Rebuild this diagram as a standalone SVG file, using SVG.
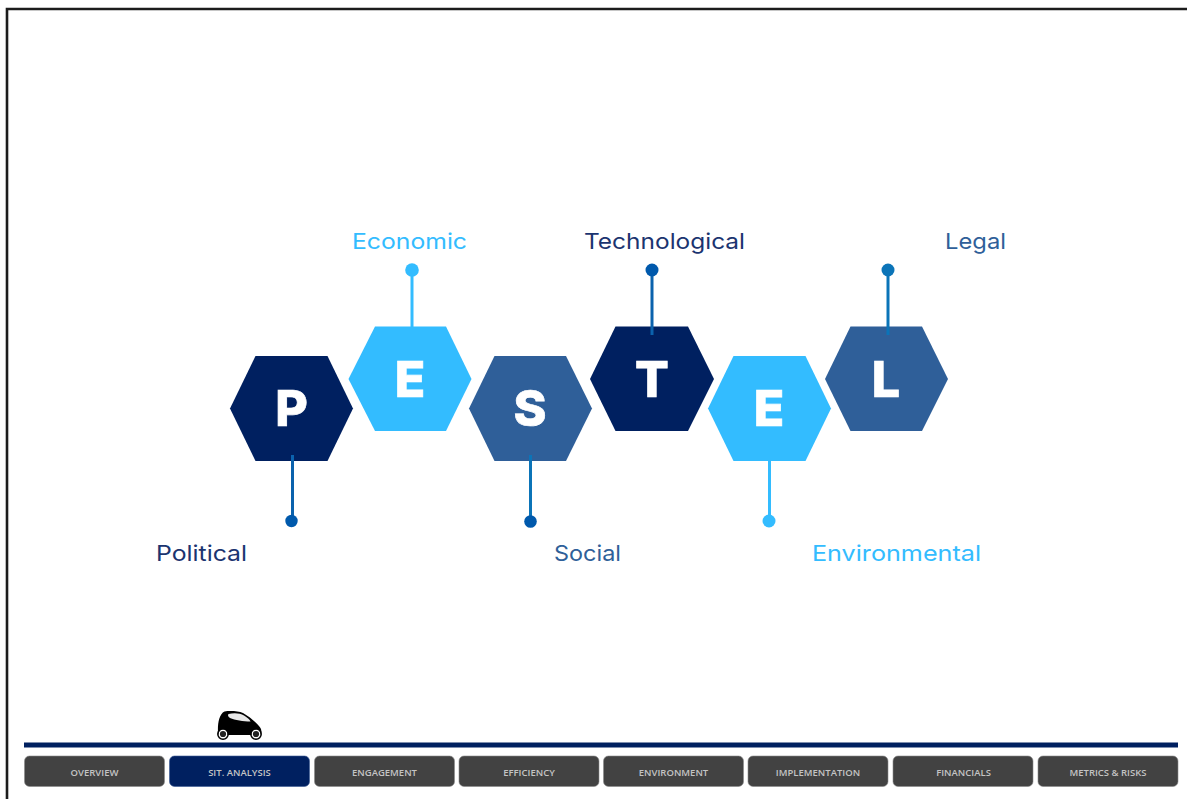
<svg xmlns="http://www.w3.org/2000/svg" width="1187" height="799" viewBox="0 0 1187 799">
<style>
.lbl{font-family:Inter,"Open Sans","Liberation Sans",sans-serif;font-size:22px;font-weight:400}
.ltr{font-family:Inter,"Liberation Sans",sans-serif;font-size:50px;font-weight:800;fill:#fff;text-anchor:middle;stroke:#fff;stroke-width:.7}
.tab{font-family:"Open Sans","Liberation Sans",sans-serif;font-size:9.5px;font-weight:600;fill:#c4c4c4;text-anchor:middle}
.btn{fill:#424242;stroke:#8a8a8a;stroke-width:.6}
.navy{fill:#002060}.sky{fill:#33bcff}.mid{fill:#2f5f99}
.c{stroke-width:3;fill:none}
</style>
<rect width="1187" height="799" fill="#fff"/>
<path id="frame" d="M7 799V9H1187" fill="none" stroke="#1c1c1c" stroke-width="2.600"/>
<g id="node-political"><polygon class="navy" points="230,408.500 255.500,356 327.500,356 353,408.500 327.500,461 255.500,461"/><text class="ltr" x="291.500" y="426">P</text><text class="lbl" x="156" y="561" fill="#1b3470" textLength="91" lengthAdjust="spacingAndGlyphs">Political</text></g>
<g id="node-economic"><polygon class="sky" points="348.500,379 375,326.500 446,326.500 471.500,379 446,431 375,431"/><text class="ltr" x="410" y="397">E</text><text class="lbl" x="352" y="249" fill="#33bcff" textLength="115" lengthAdjust="spacingAndGlyphs">Economic</text></g>
<g id="node-social"><polygon class="mid" points="469,408.500 494.500,356 566,356 592,408.500 566,461 494.500,461"/><text class="ltr" x="530" y="426">S</text><text class="lbl" x="554" y="561" fill="#2f5f99" textLength="67" lengthAdjust="spacingAndGlyphs">Social</text></g>
<g id="node-technological"><polygon class="navy" points="590,379 615.500,326.500 688,326.500 714,379 688,431 615.500,431"/><text class="ltr" x="652" y="397">T</text><text class="lbl" x="584" y="249" fill="#1b3470" textLength="161" lengthAdjust="spacingAndGlyphs">Technological</text></g>
<g id="node-environmental"><polygon class="sky" points="708,408.500 733.500,356 805.500,356 831,408.500 805.500,461 733.500,461"/><text class="ltr" x="769" y="426">E</text><text class="lbl" x="812" y="561" fill="#33bcff" textLength="169" lengthAdjust="spacingAndGlyphs">Environmental</text></g>
<g id="node-legal"><polygon class="mid" points="825,379 850.500,326.500 922,326.500 948,379 922,431 850.500,431"/><text class="ltr" x="886" y="397">L</text><text class="lbl" x="945" y="249" fill="#2f5f99" textLength="61" lengthAdjust="spacingAndGlyphs">Legal</text></g>
<g id="connectors">
<path class="c" stroke="#0b62ad" d="M292.500 455V520"/><circle cx="291.500" cy="521" r="6.200" fill="#0059ac"/>
<path class="c" stroke="#33bcff" d="M412 270V327"/><circle cx="412" cy="270" r="6.800" fill="#33bcff"/>
<path class="c" stroke="#0b74b8" d="M530.500 455V521"/><circle cx="530.500" cy="521.500" r="6.300" fill="#0059ac"/>
<path class="c" stroke="#0b62ad" d="M652 270V335"/><circle cx="652" cy="270" r="6.500" fill="#0059ac"/>
<path class="c" stroke="#33bcff" d="M769.500 461V521"/><circle cx="769" cy="521" r="6.500" fill="#33bcff"/>
<path class="c" stroke="#0b74b8" d="M888 270V335"/><circle cx="888" cy="270" r="6.500" fill="#0b74b8"/>
</g>
<g id="car">
<path d="M218 733C217.500 724 219 714 224.500 711.500C230 710.500 238 711 243 713C250 717 257 723 260.500 728C262 731 261.500 734 260 735H220C218.500 735 218 734.500 218 733Z" fill="#000"/>
<path d="M228.500 714C234 712.500 240 713 244 715.500C247 717.500 250 719.500 250.500 721.500C243 721.500 235 720 230 718C228 717 227.500 715 228.500 714Z" fill="#e8e8e8"/>
<circle cx="223" cy="734" r="3.800" fill="#222" stroke="#fff" stroke-width="1.400"/>
<circle cx="223" cy="734" r="5.200" fill="none" stroke="#000" stroke-width="1.500"/>
<circle cx="256" cy="734" r="3.800" fill="#222" stroke="#fff" stroke-width="1.400"/>
<circle cx="256" cy="734" r="5.200" fill="none" stroke="#000" stroke-width="1.500"/>
</g>
<rect id="road" x="24" y="742.500" width="1154" height="5" fill="#002060"/>
<g id="nav-overview"><rect class="btn" x="24.500" y="756" width="140" height="30.500" rx="5"/><text class="tab" x="94.500" y="775.500">OVERVIEW</text></g>
<g id="nav-sit-analysis"><rect x="169.500" y="756" width="140" height="30.500" rx="5" fill="#002060" stroke="#3c5a94" stroke-width=".6"/><text class="tab" x="239.500" y="775.500">SIT. ANALYSIS</text></g>
<g id="nav-engagement"><rect class="btn" x="314.500" y="756" width="140" height="30.500" rx="5"/><text class="tab" x="384.500" y="775.500">ENGAGEMENT</text></g>
<g id="nav-efficiency"><rect class="btn" x="459" y="756" width="140" height="30.500" rx="5"/><text class="tab" x="529" y="775.500">EFFICIENCY</text></g>
<g id="nav-environment"><rect class="btn" x="603.500" y="756" width="140" height="30.500" rx="5"/><text class="tab" x="673.500" y="775.500">ENVIRONMENT</text></g>
<g id="nav-implementation"><rect class="btn" x="748" y="756" width="140" height="30.500" rx="5"/><text class="tab" x="818" y="775.500">IMPLEMENTATION</text></g>
<g id="nav-financials"><rect class="btn" x="893" y="756" width="140" height="30.500" rx="5"/><text class="tab" x="963.500" y="775.500">FINANCIALS</text></g>
<g id="nav-metrics"><rect class="btn" x="1038" y="756" width="140" height="30.500" rx="5"/><text class="tab" x="1108" y="775.500">METRICS &amp; RISKS</text></g>
</svg>
